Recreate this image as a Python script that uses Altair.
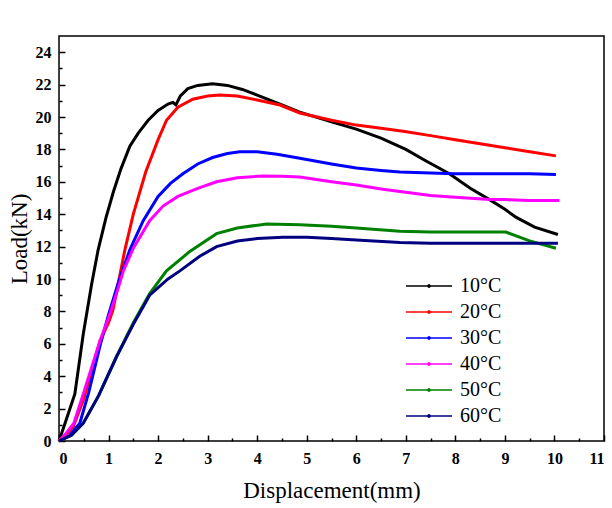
import altair as alt
import pandas as pd

# ---- data ----
labels = ["10°C", "20°C", "30°C", "40°C", "50°C", "60°C"]
colors = ["#000000", "#ff0000", "#0000ff", "#ff00ff", "#008000", "#000080"]

x10 = [0, 0.1, 0.2, 0.32, 0.49, 0.66, 0.79, 0.95, 1.1, 1.25, 1.43, 1.6, 1.8, 2.0, 2.2, 2.3, 2.36, 2.45, 2.6, 2.8, 3.1, 3.4, 3.7, 4.0, 4.5, 4.86, 5.5, 6.0, 6.5, 7.0, 7.4, 7.88, 8.3, 8.69, 9.0, 9.23, 9.6, 10.07]
y10 = [0, 0.9, 1.8, 2.9, 6.6, 9.7, 11.8, 13.8, 15.4, 16.8, 18.2, 19.0, 19.8, 20.4, 20.8, 20.9, 20.75, 21.3, 21.75, 21.95, 22.05, 21.95, 21.7, 21.35, 20.75, 20.3, 19.7, 19.25, 18.7, 18.0, 17.3, 16.5, 15.6, 14.9, 14.3, 13.8, 13.2, 12.75]

x20 = [0, 0.15, 0.29, 0.5, 0.83, 1.0, 1.09, 1.2, 1.33, 1.5, 1.75, 2.0, 2.17, 2.4, 2.7, 3.0, 3.25, 3.6, 4.0, 4.46, 4.86, 5.5, 6.0, 6.5, 6.98, 7.5, 8.0, 8.5, 9.0, 9.5, 10.03]
y20 = [0, 0.4, 0.9, 2.6, 6.2, 7.3, 8.1, 9.8, 11.8, 14.0, 16.6, 18.6, 19.8, 20.6, 21.1, 21.3, 21.36, 21.3, 21.05, 20.74, 20.25, 19.8, 19.5, 19.3, 19.1, 18.85, 18.6, 18.35, 18.1, 17.86, 17.6]

x30 = [0, 0.2, 0.42, 0.6, 0.83, 1.0, 1.2, 1.43, 1.7, 2.0, 2.25, 2.5, 2.8, 3.1, 3.4, 3.65, 4.0, 4.4, 4.86, 5.5, 6.0, 6.5, 6.88, 7.5, 8.0, 8.5, 9.0, 9.5, 10.03]
y30 = [0, 0.3, 1.1, 3.0, 5.9, 7.8, 9.8, 11.8, 13.6, 15.1, 15.9, 16.5, 17.1, 17.5, 17.75, 17.86, 17.85, 17.7, 17.45, 17.1, 16.85, 16.7, 16.6, 16.55, 16.5, 16.5, 16.5, 16.5, 16.45]

x40 = [0, 0.15, 0.3, 0.5, 0.83, 1.0, 1.15, 1.3, 1.5, 1.83, 2.1, 2.4, 2.8, 3.18, 3.6, 4.12, 4.5, 4.86, 5.5, 6.0, 6.5, 6.88, 7.5, 8.0, 8.69, 9.0, 9.5, 10.1]
y40 = [0, 0.5, 1.1, 3.0, 6.2, 7.6, 9.0, 10.5, 11.9, 13.6, 14.5, 15.1, 15.6, 16.0, 16.25, 16.36, 16.35, 16.3, 16.0, 15.8, 15.55, 15.4, 15.15, 15.05, 14.9, 14.9, 14.85, 14.84]

x50 = [0, 0.25, 0.49, 0.8, 1.16, 1.5, 1.83, 2.17, 2.64, 3.18, 3.6, 4.19, 4.86, 5.5, 6.0, 6.88, 7.5, 8.0, 8.5, 9.02, 9.5, 10.03]
y50 = [0, 0.35, 1.1, 2.8, 5.2, 7.3, 9.1, 10.5, 11.7, 12.8, 13.15, 13.4, 13.35, 13.25, 13.15, 12.95, 12.9, 12.9, 12.9, 12.9, 12.35, 11.9]

x60 = [0, 0.25, 0.49, 0.8, 1.16, 1.5, 1.83, 2.2, 2.44, 2.84, 3.18, 3.6, 4.0, 4.52, 5.0, 5.5, 6.0, 6.88, 7.5, 8.0, 9.0, 10.07]
y60 = [0, 0.35, 1.1, 2.8, 5.2, 7.2, 9.0, 10.0, 10.5, 11.4, 12.0, 12.35, 12.5, 12.57, 12.57, 12.5, 12.4, 12.25, 12.2, 12.2, 12.2, 12.2]

x_major = list(range(0, 12))
x_minor = [i + 0.5 for i in range(0, 11)]
y_major = list(range(0, 25, 2))
y_minor = list(range(1, 25, 2))

series = [(labels[0], x10, y10), (labels[1], x20, y20), (labels[2], x30, y30),
          (labels[3], x40, y40), (labels[4], x50, y50), (labels[5], x60, y60)]
rows = []
for name, xs, ys in series:
    for i, (a, b) in enumerate(zip(xs, ys)):
        rows.append({"T": name, "d": a, "load": b, "i": i})
df = pd.DataFrame(rows)

FONT = "Liberation Serif"

xscale = alt.Scale(domain=[0, 11], nice=False, zero=False)
yscale = alt.Scale(domain=[0, 25], nice=False, zero=False)

# legend glyph: a long thin line with a small dot in the middle
glyph = "M-5.75,0H5.75M0.3,0A0.3,0.3,0,1,1,-0.3,0A0.3,0.3,0,1,1,0.3,0Z"

lines = alt.Chart(df).mark_line(strokeWidth=3).encode(
    x=alt.X("d:Q", scale=xscale, axis=alt.Axis(
        orient="bottom", values=x_major, title="Displacement(mm)", offset=-6,
        tickSize=6, domain=False, grid=False, labelPadding=9, titlePadding=13)),
    y=alt.Y("load:Q", scale=yscale, axis=alt.Axis(
        orient="left", values=y_major, title="Load(kN)", offset=-6,
        tickSize=6, domain=False, grid=False, labelPadding=8, titlePadding=4)),
    color=alt.Color("T:N", scale=alt.Scale(domain=labels, range=colors),
                    legend=alt.Legend(title=None, orient="none", legendX=360, legendY=240,
                                      symbolType=glyph,
                                      symbolSize=64, symbolStrokeWidth=1.4,
                                      labelFont=FONT, labelFontSize=20, labelColor="black",
                                      labelOffset=21, rowPadding=6, padding=0)),
    order="i:Q",
)

minor = alt.Chart(df).mark_line(strokeOpacity=0).encode(
    x=alt.X("d:Q", scale=xscale, axis=alt.Axis(
        orient="bottom", values=x_minor, title=None, labels=False, offset=-3,
        tickSize=3, domain=False, grid=False)),
    y=alt.Y("load:Q", scale=yscale, axis=alt.Axis(
        orient="left", values=y_minor, title=None, labels=False, offset=-3,
        tickSize=3, domain=False, grid=False)),
    detail="T:N",
    order="i:Q",
)

chart = alt.layer(lines, minor).resolve_axis(x="independent", y="independent").properties(
    width=545, height=405,
    autosize=alt.AutoSizeParams(type="none"),
    padding={"left": 59, "top": 36, "right": 8, "bottom": 67},
    background="white",
).configure_view(stroke="black", strokeWidth=1.5).configure_axis(
    labelFont=FONT, labelFontSize=16, labelFontWeight="bold", labelColor="black",
    tickColor="black", tickWidth=1.5, titleFont=FONT, titleFontSize=23,
    titleFontWeight="normal", titleColor="black",
)

chart.save("out.html", embed_options={"renderer": "svg", "actions": False})
